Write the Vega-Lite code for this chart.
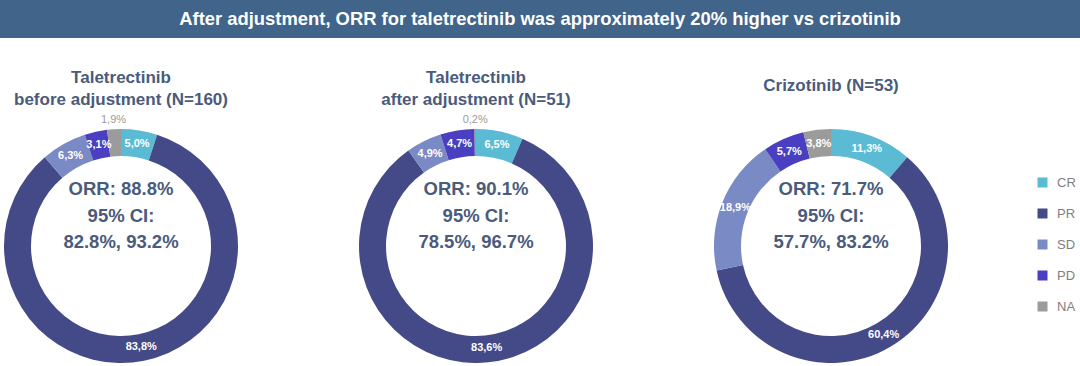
{
  "$schema": "https://vega.github.io/schema/vega-lite/v6.json",
  "padding": 0,
  "background": "white",
  "spacing": 90,
  "bounds": "flush",
  "config": {
    "view": {"stroke": null},
    "locale": {"number": {"decimal": ",", "thousands": ".", "grouping": [3], "currency": ["", " €"]}},
    "font": "Liberation Sans",
    "title": {"font": "Liberation Sans", "fontSize": 17, "fontWeight": "bold", "color": "#4a5b7b", "anchor": "middle", "lineHeight": 22, "offset": 5},
    "legend": {"orient": "none", "legendX": 1036, "legendY": 176, "title": null, "symbolType": "square", "symbolSize": 100, "labelFontSize": 13, "labelColor": "#808080", "labelFont": "Liberation Sans", "rowPadding": 17, "labelOffset": 8, "symbolStrokeWidth": 0}
  },
  "datasets": {
    "slices": [
      {"chart": "before", "status": "CR", "share": 0.050},
      {"chart": "before", "status": "PR", "share": 0.838},
      {"chart": "before", "status": "SD", "share": 0.063},
      {"chart": "before", "status": "PD", "share": 0.031},
      {"chart": "before", "status": "NA", "share": 0.019},
      {"chart": "after", "status": "CR", "share": 0.065},
      {"chart": "after", "status": "PR", "share": 0.836},
      {"chart": "after", "status": "SD", "share": 0.049},
      {"chart": "after", "status": "PD", "share": 0.047},
      {"chart": "after", "status": "NA", "share": 0.002},
      {"chart": "crizo", "status": "CR", "share": 0.113},
      {"chart": "crizo", "status": "PR", "share": 0.604},
      {"chart": "crizo", "status": "SD", "share": 0.189},
      {"chart": "crizo", "status": "PD", "share": 0.057},
      {"chart": "crizo", "status": "NA", "share": 0.038}
    ],
    "centers": [
      {"chart": "before", "label": "ORR: 88.8%\n95% CI:\n82.8%, 93.2%"},
      {"chart": "after", "label": "ORR: 90.1%\n95% CI:\n78.5%, 96.7%"},
      {"chart": "crizo", "label": "ORR: 71.7%\n95% CI:\n57.7%, 83.2%"}
    ]
  },
  "vconcat": [
    {
      "width": 1080,
      "height": 38,
      "view": {"fill": "#40648a", "stroke": null},
      "data": {"values": [{"t": "After adjustment, ORR for taletrectinib was approximately 20% higher vs crizotinib"}]},
      "mark": {"type": "text", "color": "white", "fontWeight": "bold", "fontSize": 18.4, "font": "Liberation Sans"},
      "encoding": {"text": {"field": "t"}}
    },
    {
      "spacing": 113,
      "bounds": "flush",
      "hconcat": [
        {
          "width": 242,
          "height": 236,
          "title": {"text": ["Taletrectinib", "before adjustment (N=160)"]},
          "data": {"name": "slices"},
          "transform": [
            {"filter": "datum.chart === 'before'"},
            {"calculate": "indexof(['CR','PR','SD','PD','NA'], datum.status)", "as": "rank"}
          ],
          "layer": [
            {
              "mark": {"type": "arc", "innerRadius": 90, "outerRadius": 117},
              "encoding": {
                "theta": {"field": "share", "type": "quantitative", "stack": true},
                "order": {"field": "rank", "type": "quantitative", "sort": "ascending"},
                "color": {"field": "status", "type": "nominal", "scale": {"domain": ["CR", "PR", "SD", "PD", "NA"], "range": ["#5bbbd4", "#434a87", "#7a8ac4", "#4a3fc0", "#9b9b9b"]}}
              }
            },
            {
              "mark": {"type": "text", "radius": 103, "fontWeight": "bold", "fontSize": 11, "color": "white"},
              "encoding": {
                "theta": {"field": "share", "type": "quantitative", "stack": true},
                "order": {"field": "rank", "type": "quantitative", "sort": "ascending"},
                "detail": {"field": "status"},
                "text": {"condition": {"test": "datum.share >= 0.03", "field": "share", "type": "quantitative", "format": ".1%"}, "value": ""}
              }
            },
            {
              "mark": {"type": "text", "radius": 126, "fontSize": 11, "color": "#9b9b9b"},
              "encoding": {
                "theta": {"field": "share", "type": "quantitative", "stack": true},
                "order": {"field": "rank", "type": "quantitative", "sort": "ascending"},
                "detail": {"field": "status"},
                "text": {"condition": {"test": "datum.share < 0.03", "field": "share", "type": "quantitative", "format": ".1%"}, "value": ""}
              }
            },
            {
              "data": {"name": "centers"},
              "transform": [{"filter": "datum.chart === 'before'"}],
              "mark": {"type": "text", "fontSize": 18.5, "fontWeight": "bold", "color": "#4a5b7b", "lineBreak": "\n", "lineHeight": 26.5, "dy": -57},
              "encoding": {"text": {"field": "label"}}
            }
          ]
        },
        {
          "width": 242,
          "height": 236,
          "title": {"text": ["Taletrectinib", "after adjustment (N=51)"]},
          "data": {"name": "slices"},
          "transform": [
            {"filter": "datum.chart === 'after'"},
            {"calculate": "indexof(['CR','PR','SD','PD','NA'], datum.status)", "as": "rank"}
          ],
          "layer": [
            {
              "mark": {"type": "arc", "innerRadius": 90, "outerRadius": 117},
              "encoding": {
                "theta": {"field": "share", "type": "quantitative", "stack": true},
                "order": {"field": "rank", "type": "quantitative", "sort": "ascending"},
                "color": {"field": "status", "type": "nominal", "scale": {"domain": ["CR", "PR", "SD", "PD", "NA"], "range": ["#5bbbd4", "#434a87", "#7a8ac4", "#4a3fc0", "#9b9b9b"]}}
              }
            },
            {
              "mark": {"type": "text", "radius": 103, "fontWeight": "bold", "fontSize": 11, "color": "white"},
              "encoding": {
                "theta": {"field": "share", "type": "quantitative", "stack": true},
                "order": {"field": "rank", "type": "quantitative", "sort": "ascending"},
                "detail": {"field": "status"},
                "text": {"condition": {"test": "datum.share >= 0.03", "field": "share", "type": "quantitative", "format": ".1%"}, "value": ""}
              }
            },
            {
              "mark": {"type": "text", "radius": 126, "fontSize": 11, "color": "#9b9b9b"},
              "encoding": {
                "theta": {"field": "share", "type": "quantitative", "stack": true},
                "order": {"field": "rank", "type": "quantitative", "sort": "ascending"},
                "detail": {"field": "status"},
                "text": {"condition": {"test": "datum.share < 0.03", "field": "share", "type": "quantitative", "format": ".1%"}, "value": ""}
              }
            },
            {
              "data": {"name": "centers"},
              "transform": [{"filter": "datum.chart === 'after'"}],
              "mark": {"type": "text", "fontSize": 18.5, "fontWeight": "bold", "color": "#4a5b7b", "lineBreak": "\n", "lineHeight": 26.5, "dy": -57},
              "encoding": {"text": {"field": "label"}}
            }
          ]
        },
        {
          "width": 242,
          "height": 236,
          "title": {"text": "Crizotinib (N=53)", "offset": 20},
          "data": {"name": "slices"},
          "transform": [
            {"filter": "datum.chart === 'crizo'"},
            {"calculate": "indexof(['CR','PR','SD','PD','NA'], datum.status)", "as": "rank"}
          ],
          "layer": [
            {
              "mark": {"type": "arc", "innerRadius": 90, "outerRadius": 117},
              "encoding": {
                "theta": {"field": "share", "type": "quantitative", "stack": true},
                "order": {"field": "rank", "type": "quantitative", "sort": "ascending"},
                "color": {"field": "status", "type": "nominal", "scale": {"domain": ["CR", "PR", "SD", "PD", "NA"], "range": ["#5bbbd4", "#434a87", "#7a8ac4", "#4a3fc0", "#9b9b9b"]}}
              }
            },
            {
              "mark": {"type": "text", "radius": 103, "fontWeight": "bold", "fontSize": 11, "color": "white"},
              "encoding": {
                "theta": {"field": "share", "type": "quantitative", "stack": true},
                "order": {"field": "rank", "type": "quantitative", "sort": "ascending"},
                "detail": {"field": "status"},
                "text": {"condition": {"test": "datum.share >= 0.03", "field": "share", "type": "quantitative", "format": ".1%"}, "value": ""}
              }
            },
            {
              "mark": {"type": "text", "radius": 126, "fontSize": 11, "color": "#9b9b9b"},
              "encoding": {
                "theta": {"field": "share", "type": "quantitative", "stack": true},
                "order": {"field": "rank", "type": "quantitative", "sort": "ascending"},
                "detail": {"field": "status"},
                "text": {"condition": {"test": "datum.share < 0.03", "field": "share", "type": "quantitative", "format": ".1%"}, "value": ""}
              }
            },
            {
              "data": {"name": "centers"},
              "transform": [{"filter": "datum.chart === 'crizo'"}],
              "mark": {"type": "text", "fontSize": 18.5, "fontWeight": "bold", "color": "#4a5b7b", "lineBreak": "\n", "lineHeight": 26.5, "dy": -57},
              "encoding": {"text": {"field": "label"}}
            }
          ]
        }
      ]
    }
  ]
}
